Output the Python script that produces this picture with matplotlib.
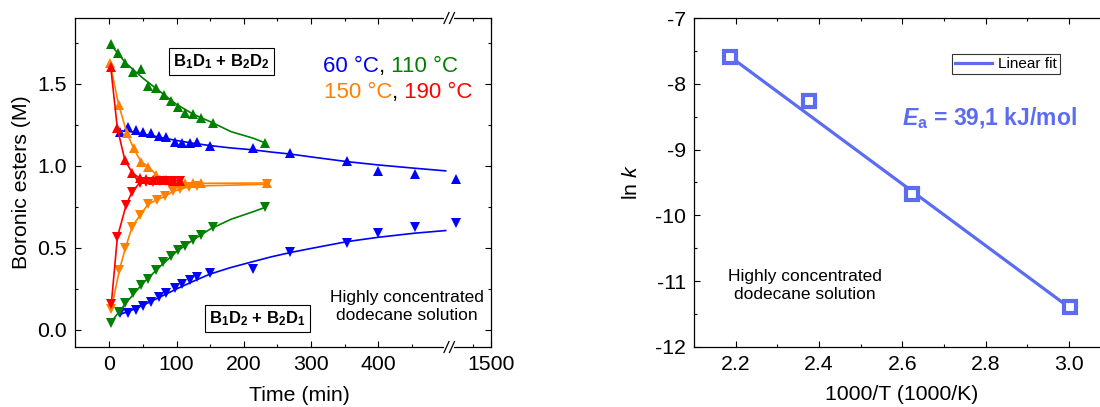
import matplotlib
matplotlib.use("Agg")
import matplotlib.pyplot as plt
from matplotlib.ticker import MultipleLocator, FixedLocator, FormatStrFormatter
from matplotlib.lines import Line2D
from matplotlib.patches import Rectangle

plt.rcParams['font.family'] = ['Liberation Sans', 'DejaVu Sans']
plt.rcParams['mathtext.fontset'] = 'custom'
plt.rcParams['mathtext.rm'] = 'Liberation Sans'
plt.rcParams['mathtext.it'] = 'Liberation Sans:italic'
plt.rcParams['mathtext.bf'] = 'Liberation Sans:bold'
plt.rcParams['mathtext.bfit'] = 'Liberation Sans:bold:italic'
plt.rcParams['axes.unicode_minus'] = False

# ---------------- data: left panel (time in min, concentration in M) ----------------
green_up_t = [2, 13, 24, 35, 47, 57, 70, 81, 91, 102, 113, 125, 137, 154, 232]
green_up = [1.742, 1.687, 1.626, 1.571, 1.589, 1.488, 1.474, 1.433, 1.396, 1.362, 1.321, 1.317, 1.291, 1.264, 1.138]
green_dn_t = [2, 14, 23, 35, 47, 57, 69, 80, 91, 102, 113, 125, 137, 154, 232]
green_dn = [0.045, 0.112, 0.167, 0.224, 0.276, 0.313, 0.366, 0.417, 0.451, 0.488, 0.512, 0.549, 0.579, 0.630, 0.748]
green_fit_t = [2, 25, 50, 75, 100, 125, 150, 181, 214, 232]
green_fit_up = [1.74, 1.625, 1.535, 1.455, 1.375, 1.315, 1.27, 1.209, 1.169, 1.14]
green_fit_dn = [0.045, 0.165, 0.285, 0.385, 0.478, 0.55, 0.615, 0.675, 0.721, 0.748]

blue_t = [16, 28, 40, 50, 62, 74, 85, 97, 108, 120, 131, 150, 214, 268, 354, 399, 454]
blue_up = [1.209, 1.236, 1.220, 1.209, 1.199, 1.183, 1.175, 1.148, 1.138, 1.138, 1.144, 1.122, 1.108, 1.077, 1.030, 0.971, 0.951]
blue_dn = [0.102, 0.106, 0.122, 0.146, 0.173, 0.203, 0.227, 0.254, 0.279, 0.305, 0.325, 0.346, 0.370, 0.477, 0.528, 0.589, 0.626]
blue_late_t = [1405]
blue_late_up = [0.919]
blue_late_dn = [0.650]
blue_fit_t = [16, 30, 50, 75, 100, 125, 150, 180, 214, 240, 268, 300, 354, 400, 454, 500]
blue_fit_up = [1.215, 1.21, 1.195, 1.175, 1.155, 1.138, 1.124, 1.11, 1.098, 1.085, 1.073, 1.055, 1.026, 1.006, 0.986, 0.970]
blue_fit_dn = [0.095, 0.115, 0.15, 0.20, 0.25, 0.297, 0.341, 0.38, 0.417, 0.445, 0.471, 0.497, 0.539, 0.565, 0.590, 0.606]

orange_up_t = [1, 14, 26, 36, 47, 58, 70, 82, 94, 112, 125, 137, 234]
orange_up = [1.626, 1.372, 1.203, 1.108, 1.026, 0.996, 0.945, 0.915, 0.898, 0.894, 0.894, 0.894, 0.896]
orange_dn_t = [3, 15, 24, 34, 46, 58, 71, 83, 95, 105, 118, 131, 234]
orange_dn = [0.125, 0.366, 0.50, 0.630, 0.701, 0.768, 0.793, 0.815, 0.845, 0.858, 0.872, 0.878, 0.888]

red_up_t = [2, 12, 23, 34, 45, 55, 65, 75, 85, 95, 105]
red_up = [1.606, 1.23, 1.037, 0.959, 0.925, 0.92, 0.915, 0.915, 0.915, 0.91, 0.91]
red_dn_t = [3, 12, 25, 34, 45, 55, 65, 75, 85, 95, 105]
red_dn = [0.16, 0.565, 0.762, 0.843, 0.895, 0.905, 0.905, 0.91, 0.91, 0.91, 0.91]

# ---------------- data: right panel (Arrhenius) ----------------
inv_T = [2.186, 2.375, 2.623, 3.002]
ln_k = [-7.594, -8.259, -9.674, -11.40]
fit_inv_T = [2.19, 3.0]
fit_ln_k = [-7.60, -11.40]

BLUE, GREEN, ORANGE, RED = '#0000FF', '#008000', '#FF8000', '#FF0000'
ARR = '#5B6CF2'
FS = 15.3

W, H = 1100, 407
def fx(p):
    return p / W
def fy(p):
    return 1 - p / H

fig = plt.figure(figsize=(W / 100, H / 100), dpi=100)

ax1 = fig.add_axes([fx(75), fy(347), (449 - 75) / W, (347 - 18) / H])
ax1b = fig.add_axes([fx(449), fy(347), (491 - 449) / W, (347 - 18) / H], sharey=ax1)
ax1b.patch.set_visible(False)
ax1.set_zorder(2)
ax1b.set_zorder(1)
ax1.patch.set_visible(False)
ax2 = fig.add_axes([fx(694), fy(346.7), (W - 694) / W, (346.7 - 18.3) / H])

ms = 6.5
lw = 1.2
for ax in (ax1, ax1b):
    # blue
    ax.plot(blue_fit_t, blue_fit_up, '-', color=BLUE, lw=lw)
    ax.plot(blue_fit_t, blue_fit_dn, '-', color=BLUE, lw=lw)
    ax.plot(blue_t, blue_up, '^', color=BLUE, ms=ms, mew=0)
    ax.plot(blue_t, blue_dn, 'v', color=BLUE, ms=ms, mew=0)
    ax.plot(blue_late_t, blue_late_up, '^', color=BLUE, ms=ms, mew=0)
    ax.plot(blue_late_t, blue_late_dn, 'v', color=BLUE, ms=ms, mew=0)
    # green
    ax.plot(green_fit_t, green_fit_up, '-', color=GREEN, lw=lw)
    ax.plot(green_fit_t, green_fit_dn, '-', color=GREEN, lw=lw)
    ax.plot(green_up_t, green_up, '^', color=GREEN, ms=ms, mew=0)
    ax.plot(green_dn_t, green_dn, 'v', color=GREEN, ms=ms, mew=0)
    # orange
    ax.plot(orange_up_t, orange_up, '-^', color=ORANGE, ms=ms, mew=0, lw=lw)
    ax.plot(orange_dn_t, orange_dn, '-v', color=ORANGE, ms=ms, mew=0, lw=lw)
    # red
    ax.plot(red_up_t, red_up, '-^', color=RED, ms=ms, mew=0, lw=lw)
    ax.plot(red_dn_t, red_dn, '-v', color=RED, ms=ms, mew=0, lw=lw)

ax1.set_xlim(-51, 505)
ax1.set_ylim(-0.104, 1.902)
ax1b.set_xlim(1385, 1500)

tick_kw = dict(direction='in', width=0.8, labelsize=FS, pad=6)
for ax in (ax1, ax1b, ax2):
    for s in ax.spines.values():
        s.set_linewidth(0.9)
    ax.tick_params(which='major', length=4, **tick_kw)
    ax.tick_params(which='minor', length=2, direction='in', width=0.8)

ax1.xaxis.set_major_locator(FixedLocator([0, 100, 200, 300, 400]))
ax1.xaxis.set_minor_locator(FixedLocator([50, 150, 250, 350, 450]))
ax1.yaxis.set_major_locator(MultipleLocator(0.5))
ax1.yaxis.set_minor_locator(MultipleLocator(0.25))
ax1.yaxis.set_major_formatter(FormatStrFormatter('%.1f'))
ax1.spines['right'].set_visible(False)
ax1.tick_params(which='both', top=True, right=False)

ax1b.xaxis.set_major_locator(FixedLocator([1500]))
ax1b.xaxis.set_minor_locator(FixedLocator([1450]))
ax1b.spines['left'].set_visible(False)
ax1b.tick_params(which='both', top=True, left=False, right=True, labelleft=False, labelright=False)

ax1.set_xlabel('Time (min)', fontsize=FS)
ax1.xaxis.set_label_coords((299 - 75) / (449 - 75), -(386 - 347) / (347 - 18), transform=ax1.transAxes)
ax1.set_ylabel('Boronic esters (M)', fontsize=FS)
ax1.yaxis.set_label_coords(-(75 - 31) / (449 - 75), 0.5)

# break marks
for yb in (18, 347):
    fig.add_artist(Rectangle((fx(444), fy(yb) - 2 / H), 10 / W, 4 / H, transform=fig.transFigure,
                             facecolor='white', edgecolor='none', zorder=10))
    for xc in (446.5, 452):
        fig.add_artist(Line2D([fx(xc - 2.5), fx(xc + 2.5)], [fy(yb + 5.5), fy(yb - 5.5)],
                              transform=fig.transFigure, color='black', lw=0.9, zorder=11))

# annotation boxes
box = dict(boxstyle='square,pad=0.25', facecolor='white', edgecolor='black', lw=0.8)
ax1.text(167, 1.635, r'$\mathbf{B_1D_1}$ + $\mathbf{B_2D_2}$', fontsize=12, fontweight='bold',
         ha='center', va='center', bbox=box)
ax1.text(220.5, 0.068, r'$\mathbf{B_1D_2}$ + $\mathbf{B_2D_1}$', fontsize=12, fontweight='bold',
         ha='center', va='center', bbox=box)
ax1.text(442, 0.142, 'Highly concentrated\ndodecane solution', fontsize=12.5, ha='center',
         va='center', linespacing=1.2)

def rainbow(ax, x, y, parts, fs):
    t = ax.text(x, y, parts[0][0], color=parts[0][1], fontsize=fs, va='center', ha='left')
    for s, c in parts[1:]:
        t = ax.annotate(s, xycoords=t, xy=(1, 0), va='bottom', ha='left', color=c, fontsize=fs)

rainbow(ax1, 317.5, 1.604, [('60 °C', BLUE), (',', 'black'), (' 110 °C', GREEN)], 16)
rainbow(ax1, 319, 1.445, [('150 °C', ORANGE), (',', 'black'), (' 190 °C', RED)], 16)

# ---------------- right panel ----------------
ax2.plot(fit_inv_T, fit_ln_k, '-', color=ARR, lw=2.3, label='Linear fit', zorder=2)
ax2.plot(inv_T, ln_k, 's', ms=8.5, mfc='white', mec=ARR, mew=3.0, zorder=3)
ax2.set_xlim(2.1, 2.1 + (W - 694) / 416.7)
ax2.set_ylim(-12, -7)
ax2.xaxis.set_major_locator(MultipleLocator(0.2))
ax2.xaxis.set_minor_locator(MultipleLocator(0.1))
ax2.xaxis.set_major_formatter(FormatStrFormatter('%.1f'))
ax2.yaxis.set_major_locator(MultipleLocator(1))
ax2.yaxis.set_minor_locator(MultipleLocator(0.5))
ax2.yaxis.set_major_formatter(FormatStrFormatter('%d'))
ax2.spines['right'].set_visible(False)
ax2.tick_params(which='both', top=True, right=False)
ax2.set_xlabel('1000/T (1000/K)', fontsize=FS)
ax2.xaxis.set_label_coords((902 - 694) / (W - 694), -(385 - 346.7) / (346.7 - 18.3))
ax2.set_ylabel(r'ln $\mathit{k}$', fontsize=FS)
ax2.yaxis.set_label_coords(-(694 - 641) / (W - 694), 0.5)

leg = ax2.legend(loc='upper left', bbox_to_anchor=(fx(952), fy(54)), bbox_transform=fig.transFigure,
                 fontsize=11, frameon=True, fancybox=False, edgecolor='black', borderpad=0.2,
                 handlelength=2.4, handletextpad=0.4, borderaxespad=0)
leg.get_frame().set_linewidth(0.8)

ax2.text(2.6, -8.52, r'$\mathbfit{E}_{\mathbf{a}}$ = 39,1 kJ/mol', color=ARR, fontsize=16.5,
         fontweight='bold', ha='left', va='center')
ax2.text(2.366, -11.07, 'Highly concentrated\ndodecane solution', fontsize=12.5, ha='center',
         va='center', linespacing=1.2)

fig.savefig('out.png', dpi=100)
